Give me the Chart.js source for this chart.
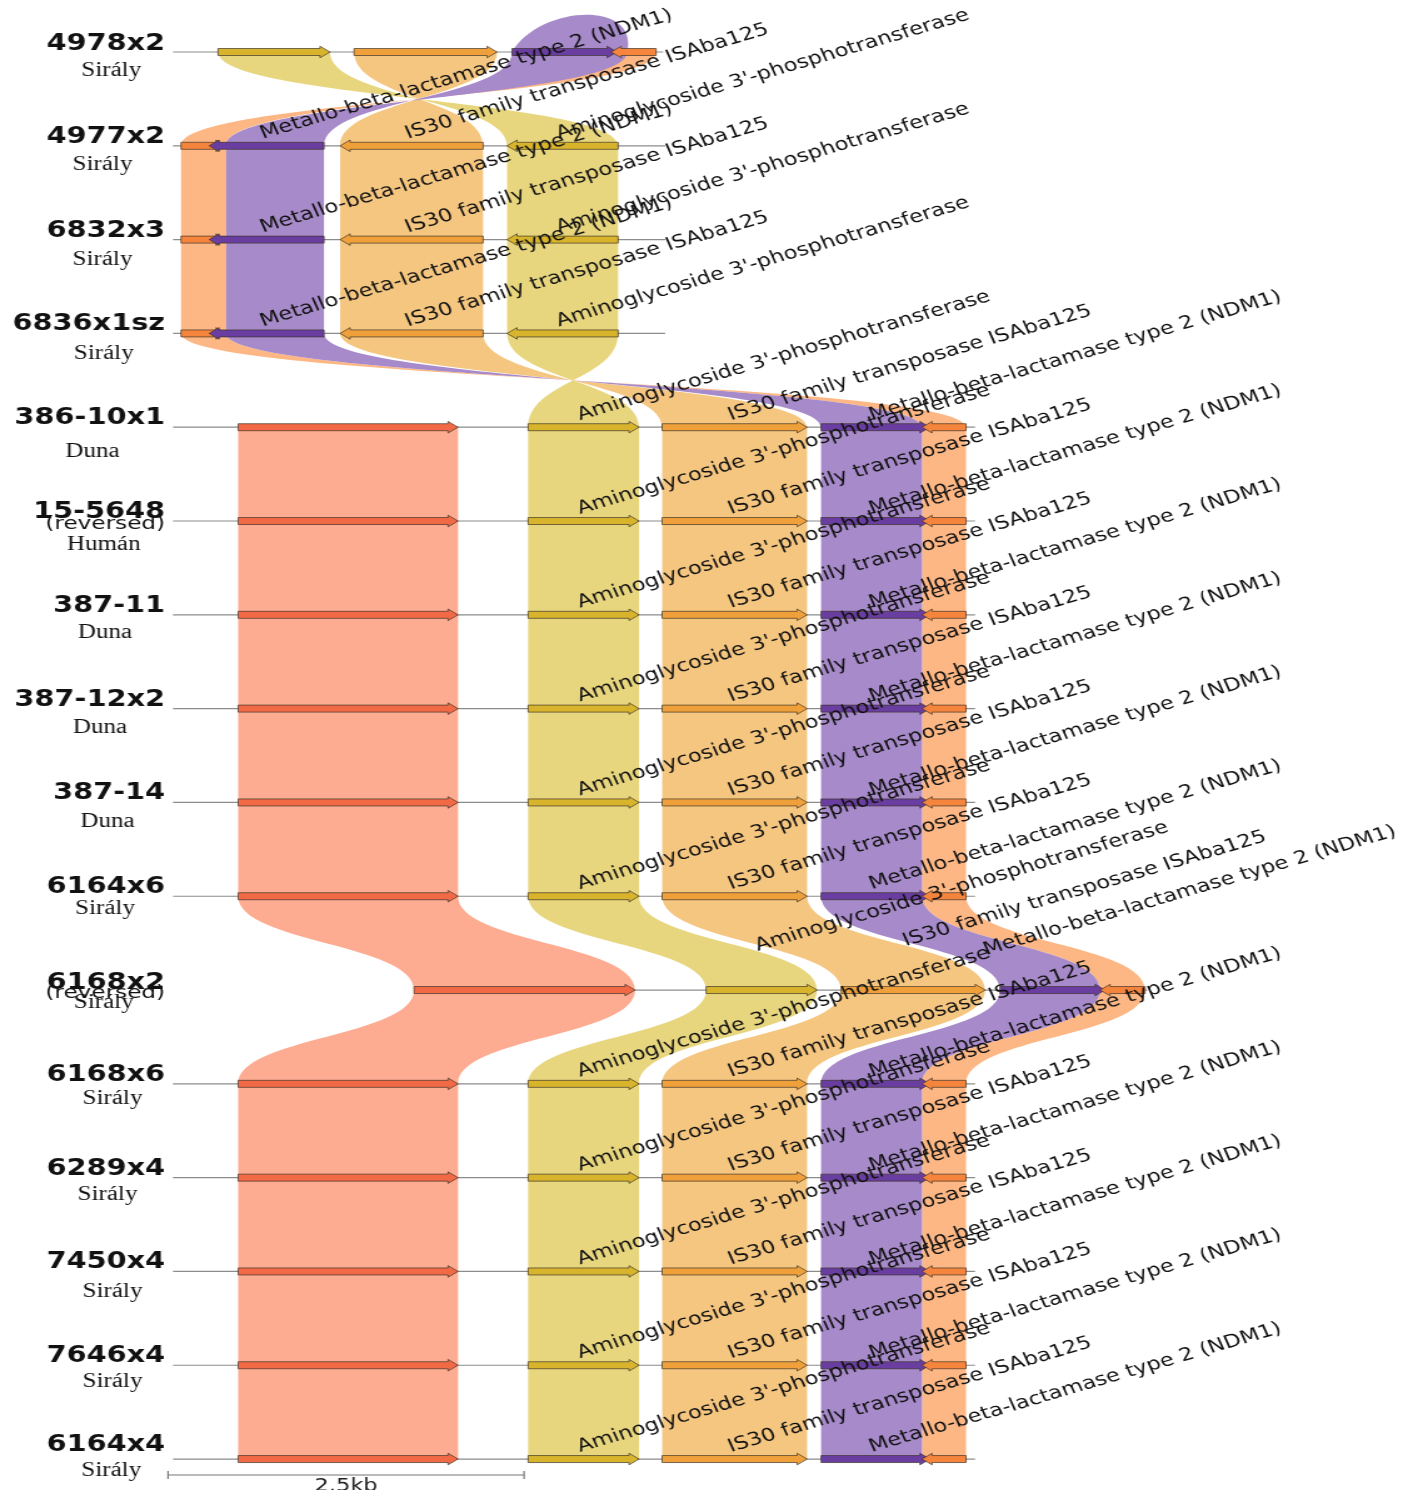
<!DOCTYPE html>
<html><head><meta charset="utf-8">
<script src="https://cdn.jsdelivr.net/npm/chart.js@4.4.1/dist/chart.umd.min.js"></script>
<style>
html,body{margin:0;padding:0;background:#fff;overflow:hidden}
</style>
</head><body>
<canvas id="c" width="1126" height="1490" style="display:block;width:1408px;height:1490px"></canvas>
<script>
// ================= DATA =================
const rowNames   = ["4978x2","4977x2","6832x3","6836x1sz","386-10x1","15-5648","387-11","387-12x2","387-14","6164x6","6168x2","6168x6","6289x4","7450x4","7646x4","6164x4"];
const rowSources = ["Sirály","Sirály","Sirály","Sirály","Duna","Humán","Duna","Duna","Duna","Sirály","Sirály","Sirály","Sirály","Sirály","Sirály","Sirály"];
const rowReversed = [false,false,false,false,false,true,false,false,false,false,true,false,false,false,false,false];
const rowLayout   = ["A","B","B","B","C","C","C","C","C","C","D","C","C","C","C","C"];
const rowLabelled = [false,true,true,true,true,true,true,true,true,true,true,true,true,true,true,true];

const geneProducts = {
  aph:  "Aminoglycoside 3'-phosphotransferase",
  is30: "IS30 family transposase ISAba125",
  ndm:  "Metallo-beta-lactamase type 2 (NDM1)"
};

// cluster extents (bp)
const regionA = [35, 3476];
const regionB = [35, 3490];
const regionC = [35, 5666];
const regionD = [1727, 6874];

// genes: [key, start, end, strand]  (bp)
const genesA = [["aph",351,1137,1],["is30",1306,2310,1],["ndm",2415,3153,1],["ble",3111,3427,-1]];
const genesB = [["ble",91,407,1],["ndm",288,1095,-1],["is30",1208,2212,-1],["aph",2380,3160,-1]];
const genesC = [["hyp",492,2036,1],["aph",2528,3307,1],["is30",3469,4487,1],["ndm",4585,5350,1],["ble",5294,5603,-1]];
const genesD = [["hyp",1727,3279,1],["aph",3778,4557,1],["is30",4726,5737,1],["ndm",5842,6579,1],["ble",6544,6860,-1]];

// aligned (linked) spans: [key, start, end]  (bp)
const linksA = [["aph",351,1137],["is30",1306,2310],["ble",3118,3427],["ndm",2415,3223]];
const linksB = [["aph",2380,3160],["is30",1208,2212],["ble",91,407],["ndm",407,1095]];
const linksC = [["hyp",492,2036],["aph",2528,3307],["is30",3469,4487],["ble",5294,5603],["ndm",4585,5294]];
const linksD = [["hyp",1727,3279],["aph",3778,4557],["is30",4726,5737],["ble",6544,6860],["ndm",5842,6544]];

const scaleBarBp = 2500;
const scaleBarLabel = "2.5kb";

// ================= STYLE =================
const layouts = {
  A:{region:regionA, genes:genesA, links:linksA},
  B:{region:regionB, genes:genesB, links:linksB},
  C:{region:regionC, genes:genesC, links:linksC},
  D:{region:regionD, genes:genesD, links:linksD}
};
const geneFill   = {hyp:"#f26a45", aph:"#d8b42c", is30:"#f0a03a", ndm:"#6a3ea1", ble:"#f5843c"};
const ribbonFill = {hyp:"#fdab91", aph:"#e8d67f", is30:"#f5c680", ndm:"#a78ac9", ble:"#fdb784"};
const loopStyle  = {pair:0, key:"ndm", h:38};           // twisted top link bows above row 1
const labelShift = {10:{aph:[0,-32], is30:[-3,-37], ndm:[-50,-28]}};
// subtitle placement (canvas px): baseline offset below row line, centre x
const subDy = [24,24,25,26,30,29,23,24,25,18,18,20,22,26,22,17];
const subCx = [89,82,82,83,74,83,84,80,86,84,83,90,86,90,90,89];
const nameDy = [-2,-3,-3,-3,-3,-3,-3,-3,-3,-3,-1,-3,-3,-3,-3,-8];

const synteny = {
  id:'synteny',
  beforeDatasetsDraw(chart){
    const ctx = chart.ctx, xs = chart.scales.x, ys = chart.scales.y;
    const X = v => xs.getPixelForValue(v), Y = r => ys.getPixelForValue(r);
    ctx.save();
    for(let i=0;i<rowNames.length-1;i++){
      const L1 = layouts[rowLayout[i]], L2 = layouts[rowLayout[i+1]];
      const y1 = Y(i), y2 = Y(i+1), ym = (y1+y2)/2;
      const s1 = L1.genes.find(g=>g[0]==="aph")[3], s2 = L2.genes.find(g=>g[0]==="aph")[3];
      const twisted = s1 !== s2;
      L1.links.forEach(lk=>{
        const other = L2.links.find(l=>l[0]===lk[0]);
        if(!other) return;
        const a=X(lk[1]), b=X(lk[2]), c=X(other[1]), d=X(other[2]);
        ctx.fillStyle = ribbonFill[lk[0]];
        ctx.beginPath();
        ctx.moveTo(a,y1);
        if(loopStyle.pair===i && loopStyle.key===lk[0]){
          const w=b-a, h=loopStyle.h;
          ctx.bezierCurveTo(a+0.24*w, y1-1.24*h, b+0.11*w, y1-1.37*h, b, y1);
        } else ctx.lineTo(b,y1);
        const p = twisted ? c : d, q = twisted ? d : c;
        ctx.bezierCurveTo(b,ym,p,ym,p,y2);
        ctx.lineTo(q,y2);
        ctx.bezierCurveTo(q,ym,a,ym,a,y1);
        ctx.closePath();
        ctx.fill();
      });
    }
    ctx.restore();
  },
  afterDatasetsDraw(chart){
    const ctx = chart.ctx, xs = chart.scales.x, ys = chart.scales.y;
    const X = v => xs.getPixelForValue(v), Y = r => ys.getPixelForValue(r);
    ctx.save();
    // genes
    rowNames.forEach((nm,i)=>{
      const L = layouts[rowLayout[i]], y = Y(i);
      const gs = L.genes.slice().sort((g,h)=>g[1]-h[1]);
      gs.forEach(g=>{
        const x1=X(g[1]), x2=X(g[2]);
        const bh=3.5, hh=5.8, hl=Math.min(8,(x2-x1)*0.5);
        ctx.beginPath();
        if(g[3]>0){
          ctx.moveTo(x1,y-bh); ctx.lineTo(x2-hl,y-bh); ctx.lineTo(x2-hl,y-hh); ctx.lineTo(x2,y);
          ctx.lineTo(x2-hl,y+hh); ctx.lineTo(x2-hl,y+bh); ctx.lineTo(x1,y+bh);
        } else {
          ctx.moveTo(x2,y-bh); ctx.lineTo(x1+hl,y-bh); ctx.lineTo(x1+hl,y-hh); ctx.lineTo(x1,y);
          ctx.lineTo(x1+hl,y+hh); ctx.lineTo(x1+hl,y+bh); ctx.lineTo(x2,y+bh);
        }
        ctx.closePath();
        ctx.fillStyle = geneFill[g[0]];
        ctx.fill();
        ctx.lineWidth = 0.8; ctx.strokeStyle = "rgba(60,50,40,0.85)";
        ctx.stroke();
      });
    });
    // row names
    rowNames.forEach((nm,i)=>{
      const y = Y(i);
      ctx.fillStyle = "#111";
      ctx.textAlign = "right"; ctx.textBaseline = "alphabetic";
      ctx.font = 'bold 23px "DejaVu Sans"';
      ctx.fillText(nm, 132, y + nameDy[i]);
      if(rowReversed[i]){
        ctx.font = '18.5px "DejaVu Sans"';
        ctx.fillText("(reversed)", 132, y+8);
      }
      ctx.textAlign = "center";
      ctx.font = '20px "Liberation Serif"';
      ctx.fillText(rowSources[i], subCx[i], y + subDy[i]);
    });
    // gene labels
    ctx.font = '18px "DejaVu Sans"';
    ctx.fillStyle = "#111";
    ctx.textAlign = "left"; ctx.textBaseline = "alphabetic";
    rowNames.forEach((nm,i)=>{
      if(!rowLabelled[i]) return;
      const L = layouts[rowLayout[i]], y = Y(i);
      L.genes.forEach(g=>{
        const txt = geneProducts[g[0]];
        if(!txt) return;
        let ax = X((g[1]+g[2])/2) - 3, ay = y - 7;
        const sh = labelShift[i] && labelShift[i][g[0]];
        if(sh){ ax += sh[0]; ay += sh[1]; }
        ctx.save();
        ctx.translate(ax, ay);
        ctx.rotate(-20*Math.PI/180);
        ctx.fillText(txt, 0, 0);
        ctx.restore();
      });
    });
    // scale bar
    const sx1 = X(0), sx2 = X(scaleBarBp), sy = 1475;
    ctx.strokeStyle = "#777"; ctx.lineWidth = 1.2;
    ctx.beginPath();
    ctx.moveTo(sx1,sy); ctx.lineTo(sx2,sy);
    ctx.moveTo(sx1,sy-4); ctx.lineTo(sx1,sy+4);
    ctx.moveTo(sx2,sy-4); ctx.lineTo(sx2,sy+4);
    ctx.stroke();
    ctx.fillStyle = "#222"; ctx.textAlign = "center";
    ctx.font = '18px "DejaVu Sans"';
    ctx.fillText(scaleBarLabel, (sx1+sx2)/2, 1491);
    ctx.restore();
  }
};

const rowLineSets = rowNames.map((nm,i)=>{
  const r = layouts[rowLayout[i]].region;
  return {label:nm, data:[{x:r[0],y:i},{x:r[1],y:i}], showLine:true, pointRadius:0,
          borderColor:"#8c8c8c", borderWidth:1.2};
});

const cv = document.getElementById('c');
new Chart(cv, {
  type:'scatter',
  data:{datasets: rowLineSets},
  options:{
    responsive:false, animation:false, devicePixelRatio:1,
    layout:{padding:0},
    plugins:{legend:{display:false}, tooltip:{enabled:false}, title:{display:false}},
    scales:{
      x:{type:'linear', display:false, min:-1180, max:8706},
      y:{type:'linear', display:false, reverse:true, min:-0.5544, max:15.330}
    }
  },
  plugins:[synteny]
});
cv.style.width = '1408px';
cv.style.height = '1490px';
</script>
</body></html>
